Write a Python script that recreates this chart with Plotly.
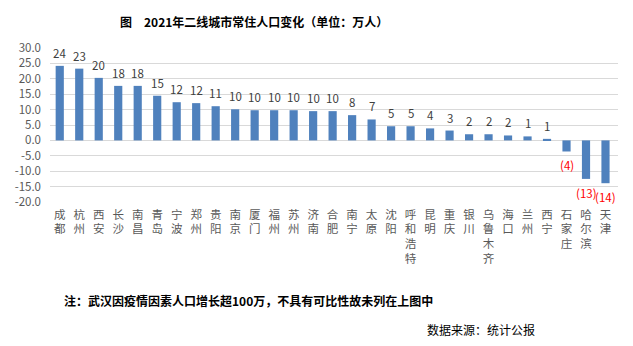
import plotly.graph_objects as go

# 2021 resident population change of second-tier cities (10k persons)
cities = ["成都", "杭州", "西安", "长沙", "南昌", "青岛", "宁波", "郑州", "贵阳", "南京",
          "厦门", "福州", "苏州", "济南", "合肥", "南宁", "太原", "沈阳", "呼和浩特", "昆明",
          "重庆", "银川", "乌鲁木齐", "海口", "兰州", "西宁", "石家庄", "哈尔滨", "天津"]
changes = [24.2, 23.3, 20.3, 17.7, 17.7, 14.5, 12.4, 12.1, 11.1, 10.1,
           9.8, 9.8, 9.8, 9.5, 9.5, 8.2, 6.8, 4.6, 4.6, 3.9,
           3.2, 2.0, 2.0, 1.6, 1.3, 0.5, -3.6, -12.5, -13.9]
y_ticks = [30, 25, 20, 15, 10, 5, 0, -5, -10, -15, -20]

FONT = "Noto Sans CJK SC"
BAR_COLOR = "#4F81BD"


def round_half_up(v):
    return int(abs(v) + 0.5)


def value_label(v):
    n = round_half_up(v)
    return f"({n})" if v < 0 else f"{n}"


fig = go.Figure()
fig.add_trace(go.Bar(
    x=cities,
    y=changes,
    marker=dict(color=BAR_COLOR, line=dict(width=0)),
    width=0.42,
    hoverinfo="x+y",
))

# value labels: above positive bars, red in parentheses below negative bars
annotations = []
for c, v in zip(cities, changes):
    neg = v < 0
    annotations.append(dict(
        x=c, y=v, xref="x", yref="y",
        text=value_label(v),
        showarrow=False,
        yshift=-14 if neg else 13,
        font=dict(family=FONT, size=11.5, color="#FF0000" if neg else "#404040"),
    ))

annotations += [
    dict(text="图　2021年二线城市常住人口变化（单位：万人）",
         xref="paper", yref="paper", x=(254 - 50) / 568, y=1 + (48 - 21) / 154,
         xanchor="center", yanchor="middle", showarrow=False,
         font=dict(family=FONT, size=12, color="#000000", weight="bold")),
    dict(text="注：武汉因疫情因素人口增长超100万，不具有可比性故未列在上图中",
         xref="paper", yref="paper", x=(62 - 50) / 568, y=-(300 - 202) / 154,
         xanchor="left", yanchor="middle", showarrow=False,
         font=dict(family=FONT, size=12, color="#000000", weight="bold")),
    dict(text="数据来源：统计公报",
         xref="paper", yref="paper", x=(425 - 50) / 568, y=-(329 - 202) / 154,
         xanchor="left", yanchor="middle", showarrow=False,
         font=dict(family=FONT, size=12, color="#000000")),
]

fig.update_layout(
    width=633, height=346,
    margin=dict(l=50, r=15, t=48, b=144),
    paper_bgcolor="white",
    plot_bgcolor="white",
    showlegend=False,
    bargap=0.58,
    annotations=annotations,
    font=dict(family=FONT),
)

fig.update_xaxes(
    tickmode="array",
    tickvals=cities,
    ticktext=["<br>".join(list(c)) for c in cities],
    tickfont=dict(family=FONT, size=11.5, color="#595959"),
    tickangle=0,
    showgrid=False,
    showline=False,
    zeroline=False,
    ticks="",
    ticklabelstandoff=4,
)

fig.update_yaxes(
    range=[-20, 30],
    tickmode="array",
    tickvals=y_ticks,
    ticktext=[f"{t:.1f}" for t in y_ticks],
    tickfont=dict(family=FONT, size=11.5, color="#595959"),
    showgrid=True,
    gridcolor="#D9D9D9",
    gridwidth=1,
    zeroline=False,
    showline=False,
    ticks="",
    ticklabelstandoff=8,
)

fig.write_html("out.html")
